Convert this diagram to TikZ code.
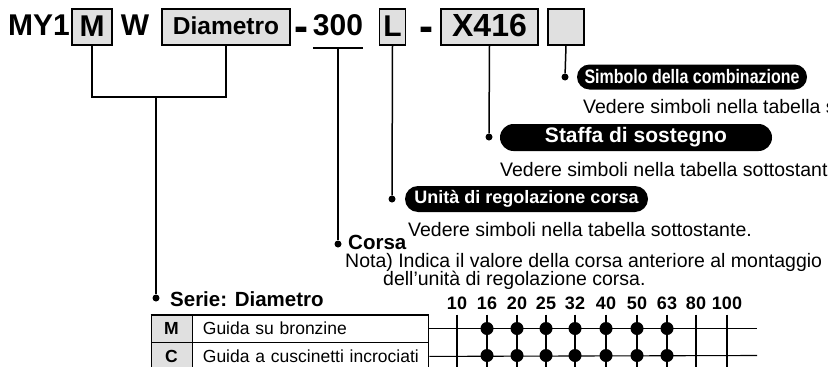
\documentclass[tikz,border=0pt]{standalone}
\usepackage{fontspec}
\setmainfont{Liberation Sans}
\newfontfamily\condsans{Liberation Sans}[FakeStretch=0.82]
\usetikzlibrary{positioning}
\definecolor{boxgray}{RGB}{224,224,224}
\newcommand\pxfont[1]{\fontsize{#1pt}{#1pt}\selectfont}

\begin{document}
\begin{tikzpicture}[
    x=1pt, y=-1pt,
    codebox/.style={draw, fill=boxgray, line width=1.2pt, inner sep=0pt,
                    minimum height=36pt, font=\bfseries\pxfont{30},
                    text height=21.5pt, text depth=3pt},
    bigtxt/.style={anchor=base, inner sep=0pt, font=\bfseries\pxfont{30}},
    dashmark/.style={anchor=base, inner sep=0pt, font=\bfseries\pxfont{30}},
    pill/.style={fill=black, text=white, inner sep=0pt, font=\bfseries\pxfont{18}},
    note/.style={anchor=base west, inner sep=0pt, font=\pxfont{19.5}},
    head/.style={anchor=base west, inner sep=0pt, font=\bfseries\pxfont{20.5}},
    lead/.style={line width=1.5pt},
    tip/.style={circle, fill=black, inner sep=0pt, minimum size=7pt},
    keycell/.style={draw, fill=boxgray, line width=0.9pt, minimum width=41pt,
                    minimum height=27pt, inner sep=0pt, font=\bfseries\pxfont{17.5}},
    desccell/.style={draw, line width=0.9pt, minimum height=27pt, text width=216pt,
                     inner xsep=10pt, inner ysep=0pt, align=left, font=\pxfont{17.5}},
    grid/.style={line width=1.1pt},
    numlbl/.style={inner sep=0pt, font=\bfseries\pxfont{18}},
    bigdot/.style={circle, fill=black, inner sep=0pt, minimum size=13pt}
]
\clip (0,0) rectangle (828,367);
% Model code
\node[bigtxt, anchor=base west] (my1) at (8,35) {MY1};
\node[codebox, minimum width=40pt] (mbox) at (92,27) {M};
\node[bigtxt] (wlet) at (135,35) {W};
\node[codebox, minimum width=128pt, font=\bfseries\pxfont{24.5},
      text height=17.5pt] (dbox) at (226,27) {Diametro};
\node[dashmark] (dashA) at (301.5,41) {\scalebox{1.4}[1.5]{-}};
\node[bigtxt] (n300) at (338,35) {300};
\node[codebox, minimum width=26pt] (lbox) at (392.5,27) {L};
\node[dashmark] (dashB) at (426.5,41) {\scalebox{1.4}[1.5]{-}};
\node[codebox, minimum width=97pt, font=\bfseries\pxfont{32}] (xbox) at (489.5,27) {X416};
\node[codebox, minimum width=36pt] (ebox) at (566,27) {};
\coordinate (u300) at ([yshift=-13pt]n300.base);
\draw[lead] ([yshift=-13pt]n300.base west) -- ([yshift=-13pt]n300.base east);

% Callouts
\node[tip] (dSim) at (565,77) {};
\node[pill, font=\condsans\bfseries\pxfont{19.5}, minimum width=230pt, minimum height=25pt,
      rounded corners=12.5pt] (pSim) at (692,77) {Simbolo della combinazione};
\node[note] (vSim) at (583,113) {Vedere simboli nella tabella sottostante.};

\node[tip] (dSta) at (489,137) {};
\node[pill, font=\bfseries\pxfont{21}, minimum width=272pt, minimum height=27pt,
      rounded corners=13.5pt] (pSta) at (636,137.5) {Staffa di sostegno};
\node[note] (vSta) at (500,176) {Vedere simboli nella tabella sottostante.};

\node[tip] (dUni) at (392,199) {};
\node[pill, minimum width=243pt, minimum height=26pt,
      rounded corners=13pt] (pUni) at (526.5,199) {Unità di regolazione corsa};
\node[note] (vUni) at (408,236) {Vedere simboli nella tabella sottostante.};

\node[tip] (dCor) at (338,244) {};
\node[head] (hCor) at (348,249) {Corsa};
\node[note] (nota) at (345,267) {Nota) Indica il valore della corsa anteriore al montaggio};
\node[note] (nota2) at (383,285) {dell'unità di regolazione corsa.};

\node[tip] (dSer) at (156,298) {};
\node[head] (hSer) at (170,306) {Serie: Diametro};

% Leaders
\coordinate (brk) at (156,97);
\draw[lead] (mbox.south) |- (brk) -| (dbox.south);
\draw[lead] (brk) -- (dSer);
\draw[lead] (u300) -- (dCor);
\draw[lead] (lbox.south) -- (dUni);
\draw[lead] (xbox.south) -- (dSta);
\draw[lead] (ebox.south) -- (dSim);

% Table
\node[keycell] (keyM) at (171.5,328.5) {M};
\node[desccell, right=0pt of keyM] (descM) {Guida su bronzine};
\node[keycell, below=0pt of keyM] (keyC) {C};
\node[desccell, right=0pt of keyC] (descC) {Guida a cuscinetti incrociati};
\draw[line width=2pt] (keyM.north west) -- (descM.north east);

% Bore grid
\coordinate (rowM) at (757,328.5);
\coordinate (rowC) at (757,355.5);
\draw[grid] (descM.east) -- (rowM);
\draw[grid] (descC.east) -- (rowC);
\foreach \d/\x in {10/457,16/487,20/517,25/546,32/575,40/606,50/637,63/667,80/696,100/727}{
  \node[numlbl] (n\d) at (\x,303) {\d};
  \coordinate (b\d) at (\x,370);
  \draw[grid] ([yshift=-5pt]n\d.south) -- (b\d);
}
\foreach \d/\x in {16/487,20/517,25/546,32/575,40/606,50/637,63/667}{
  \node[bigdot] (m\d) at (\x,328.5) {};
  \node[bigdot] (c\d) at (\x,355.5) {};
}
\end{tikzpicture}
\end{document}
